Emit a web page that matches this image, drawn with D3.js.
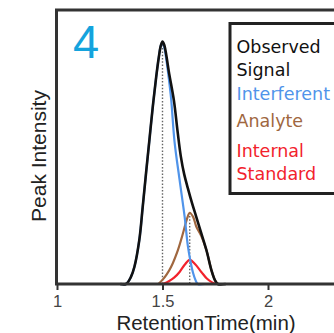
<!DOCTYPE html>
<html>
<head>
<meta charset="utf-8">
<script src="https://cdn.jsdelivr.net/npm/d3@7"></script>
<style>
  body { margin: 0; background: #fff; }
  svg { display: block; }
</style>
</head>
<body>
<script>
// values (intensity in arbitrary units, 0-100)
var obsTime = [1.30, 1.327, 1.35, 1.367, 1.39, 1.406, 1.422, 1.438, 1.454, 1.47, 1.482, 1.492, 1.5, 1.508, 1.518, 1.53, 1.554, 1.571, 1.587, 1.603, 1.62, 1.64, 1.66, 1.684, 1.708, 1.732, 1.748, 1.762, 1.80];
var obsValue = [0, 0, 2.5, 6.3, 16, 28, 40.5, 52.6, 64.7, 75.5, 82.5, 87, 88.5, 87.3, 83.5, 77.5, 67, 56, 46.5, 40, 35, 29.5, 24.5, 18.5, 12.4, 5, 1.5, 0, 0];

var interTime = [1.30, 1.327, 1.35, 1.367, 1.39, 1.406, 1.422, 1.438, 1.454, 1.47, 1.482, 1.492, 1.5, 1.508, 1.518, 1.53, 1.541, 1.557, 1.581, 1.605, 1.62, 1.632, 1.645, 1.656, 1.667, 1.70];
var interValue = [0, 0, 2.5, 6.3, 16, 28, 40.5, 52.6, 64.7, 75.5, 82.5, 87, 88, 86.5, 82, 75, 67.5, 52, 38, 24.5, 14, 8.5, 4, 1.5, 0, 0];

var anaTime = [1.48, 1.50, 1.52, 1.541, 1.573, 1.597, 1.615, 1.629, 1.645, 1.66, 1.684, 1.708, 1.732, 1.748, 1.762];
var anaValue = [0, 1.5, 3.5, 6.3, 12.4, 18.5, 23.5, 26, 24.5, 21, 17.5, 12.4, 5, 1.5, 0];

var isTime = [1.486, 1.51, 1.53, 1.555, 1.581, 1.605, 1.629, 1.655, 1.684, 1.71, 1.735, 1.756];
var isValue = [0, 0.3, 1, 2.3, 4.4, 7, 8.8, 7.2, 4.4, 2, 0.6, 0];

// dotted peak markers
var peakTime = [1.5, 1.629];
var peakValue = [88.5, 26];

var xTicks = [1, 1.5, 2];
var legendGroups = [["Observed", "Signal"], ["Interferent"], ["Analyte"], ["Internal", "Standard"]];
var legendColors = ["#111", "#5094ea", "#a0673f", "#f2222c"];

var W = 334, H = 333;
var svg = d3.select('body').append('svg')
    .attr('width', W)
    .attr('height', H);

var x = d3.scaleLinear().domain([1, 2]).range([57, 268]);
var y = d3.scaleLinear().domain([0, 100]).range([284, 10]);

var line = d3.line()
    .x(function(d){ return x(d[0]); })
    .y(function(d){ return y(d[1]); })
    .curve(d3.curveCatmullRom.alpha(0.5));

function pts(t, v){ return t.map(function(d, i){ return [d, v[i]]; }); }

// frame (right side runs off the picture)
svg.append('path')
    .attr('d', 'M' + (W + 20) + ',' + y(100) + 'H' + 56.5 + 'V' + y(0))
    .attr('fill', 'none')
    .attr('stroke', '#333')
    .attr('stroke-width', 3);

// dotted lines at peak apex
svg.selectAll('line.peak')
    .data(peakTime)
    .enter()
    .append('line')
    .attr('class', 'peak')
    .attr('x1', function(d){ return x(d); })
    .attr('x2', function(d){ return x(d); })
    .attr('y1', function(d, i){ return y(peakValue[i]); })
    .attr('y2', y(0))
    .attr('stroke', '#666')
    .attr('stroke-width', 1.4)
    .attr('stroke-dasharray', '1.5,1.8');

// curves, drawn bottom to top
var series = [
  { p: pts(isTime, isValue), c: legendColors[3], w: 2.2 },
  { p: pts(anaTime, anaValue), c: legendColors[2], w: 2.2 },
  { p: pts(interTime, interValue), c: legendColors[1], w: 2.2 },
  { p: pts(obsTime, obsValue), c: legendColors[0], w: 2.6 }
];
svg.selectAll('path.curve')
    .data(series)
    .enter()
    .append('path')
    .attr('class', 'curve')
    .attr('d', function(d){ return line(d.p); })
    .attr('fill', 'none')
    .attr('stroke', function(d){ return d.c; })
    .attr('stroke-width', function(d){ return d.w; })
    .attr('stroke-linejoin', 'round');

// x axis
var xAxis = svg.append('g')
    .attr('transform', 'translate(0,' + y(0) + ')')
    .call(d3.axisBottom(x).tickValues(xTicks).tickFormat(d3.format('')).tickSize(6).tickPadding(5));
xAxis.select('.domain').remove();
xAxis.selectAll('line').attr('stroke', '#333').attr('stroke-width', 2);
xAxis.selectAll('text')
    .attr('fill', '#444')
    .attr('font-family', 'Liberation Sans, Arial, sans-serif')
    .attr('font-size', '16.5px');

svg.append('line')
    .attr('x1', 55).attr('x2', W + 20)
    .attr('y1', y(0)).attr('y2', y(0))
    .attr('stroke', '#333')
    .attr('stroke-width', 3);

// axis titles
svg.append('text')
    .text('RetentionTime(min)')
    .attr('x', 206)
    .attr('y', 330)
    .attr('text-anchor', 'middle')
    .attr('font-family', 'Liberation Sans, Arial, sans-serif')
    .attr('font-size', '20.5px')
    .attr('fill', '#222');

svg.append('text')
    .text('Peak Intensity')
    .attr('transform', 'translate(46,156) rotate(-90)')
    .attr('text-anchor', 'middle')
    .attr('font-family', 'Liberation Sans, Arial, sans-serif')
    .attr('font-size', '21px')
    .attr('fill', '#222');

// panel number
svg.append('text')
    .text('4')
    .attr('x', 73)
    .attr('y', 57.5)
    .attr('font-family', 'Liberation Sans, Arial, sans-serif')
    .attr('font-size', '47px')
    .attr('fill', '#14a3dd');

// legend
svg.append('rect')
    .attr('x', 230)
    .attr('y', 23.5)
    .attr('width', W)
    .attr('height', 170)
    .attr('fill', '#fff')
    .attr('stroke', '#222')
    .attr('stroke-width', 3);

var groupY = [53, 100, 127, 157];
legendGroups.forEach(function(g, gi){
  svg.selectAll(null)
      .data(g)
      .enter()
      .append('text')
      .text(function(d){ return d; })
      .attr('x', 236.5)
      .attr('y', function(d, i){ return groupY[gi] + i * 23; })
      .attr('font-family', 'DejaVu Sans, Verdana, sans-serif')
      .attr('font-size', '17.5px')
      .attr('fill', legendColors[gi]);
});
</script>
</body>
</html>
